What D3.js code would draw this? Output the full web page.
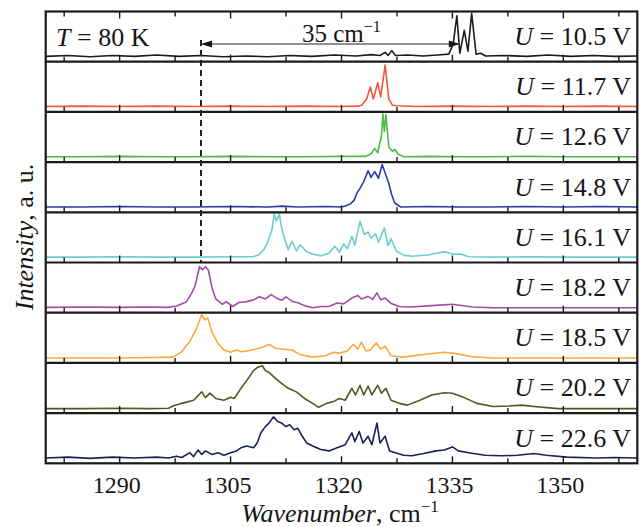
<!DOCTYPE html>
<html><head><meta charset="utf-8">
<script src="https://cdn.jsdelivr.net/npm/d3@7"></script>
<style>body{margin:0;background:#fff}svg{display:block}</style>
</head><body>
<script>
// ---- data ----
const labels = ["10.5", "11.7", "12.6", "14.8", "16.1", "18.2", "18.5", "20.2", "22.6"];
const majorTicks = [1290, 1305, 1320, 1335, 1350];
const minorTicks = [1282.5, 1297.5, 1312.5, 1327.5, 1342.5, 1357.5];
const s105 = [[1280,0.03],[1283,0.05],[1286,0.02],[1289,0.05],[1292,0.03],[1295,0.06],[1298,0.03],[1301,0.05],[1304,0.02],[1307,0.04],[1310,0.02],[1313,0.05],[1316,0.03],[1319,0.06],[1322,0.04],[1324,0.07],[1325.2,0.05],[1325.9,0.12],[1326.3,0.05],[1326.8,0.16],[1327.3,0.05],[1329,0.06],[1331,0.04],[1333,0.06],[1334.5,0.08],[1335.1,0.3],[1335.6,0.95],[1336.0,0.1],[1336.6,0.62],[1337.1,0.15],[1337.6,1.0],[1338.2,0.08],[1338.8,0.1],[1339.5,0.04],[1342,0.05],[1345,0.03],[1348,0.06],[1351,0.03],[1354,0.05],[1357,0.03],[1360,0.04]];
const s117 = [[1280,0.03],[1285,0.04],[1290,0.03],[1295,0.04],[1300,0.03],[1305,0.04],[1310,0.03],[1315,0.04],[1320,0.03],[1322.3,0.04],[1322.8,0.07],[1323.4,0.2],[1323.9,0.47],[1324.3,0.2],[1324.9,0.57],[1325.3,0.25],[1325.9,0.97],[1326.4,0.2],[1326.9,0.06],[1327.5,0.05],[1330,0.03],[1335,0.04],[1340,0.03],[1345,0.04],[1350,0.03],[1355,0.04],[1360,0.03]];
const s126 = [[1280,0.03],[1285,0.03],[1290,0.04],[1295,0.03],[1300,0.03],[1305,0.04],[1310,0.03],[1315,0.03],[1320,0.04],[1323.3,0.04],[1324,0.1],[1324.5,0.22],[1324.9,0.12],[1325.4,0.5],[1325.6,1.0],[1325.8,0.6],[1326.0,0.98],[1326.4,0.25],[1326.9,0.15],[1327.2,0.2],[1327.7,0.08],[1328.5,0.03],[1332,0.04],[1336,0.03],[1340,0.03],[1345,0.04],[1350,0.03],[1355,0.03],[1360,0.03]];
const s148 = [[1280,0.03],[1285,0.03],[1290,0.04],[1295,0.03],[1300,0.03],[1305,0.04],[1310,0.03],[1312,0.05],[1314,0.03],[1318,0.04],[1320,0.03],[1320.6,0.06],[1321.2,0.1],[1321.7,0.18],[1322.1,0.35],[1322.5,0.45],[1323,0.6],[1323.6,0.85],[1324,0.7],[1324.5,0.83],[1325,0.68],[1325.5,0.99],[1325.9,0.8],[1326.4,0.56],[1326.8,0.3],[1327.2,0.12],[1328,0.03],[1332,0.04],[1336,0.03],[1340,0.03],[1345,0.04],[1350,0.03],[1355,0.04],[1360,0.03]];
const s161 = [[1280,0.03],[1285,0.03],[1290,0.04],[1295,0.03],[1300,0.03],[1305,0.04],[1308,0.04],[1308.8,0.08],[1309.5,0.2],[1310,0.36],[1310.6,0.65],[1310.9,1.0],[1311.2,0.85],[1311.6,1.0],[1311.9,0.7],[1312.2,0.5],[1312.8,0.2],[1313.3,0.39],[1313.9,0.17],[1314.4,0.31],[1315.3,0.15],[1316.1,0.1],[1317.2,0.06],[1318.3,0.12],[1319.1,0.28],[1319.7,0.14],[1320.3,0.33],[1320.8,0.22],[1321.4,0.5],[1321.8,0.3],[1322.5,0.84],[1323.1,0.54],[1323.6,0.6],[1324,0.46],[1324.6,0.56],[1325,0.37],[1325.8,0.69],[1326.3,0.29],[1326.7,0.45],[1327.4,0.17],[1328.5,0.07],[1329.6,0.05],[1331.7,0.08],[1332.8,0.12],[1333.9,0.15],[1335,0.1],[1336.1,0.1],[1337.2,0.04],[1340.5,0.03],[1345,0.04],[1350,0.03],[1355,0.03],[1360,0.03]];
const s182 = [[1280,0.03],[1285,0.04],[1290,0.03],[1294,0.04],[1296.5,0.03],[1297.7,0.06],[1299,0.15],[1299.7,0.34],[1300.2,0.52],[1300.8,0.95],[1301.2,0.88],[1301.6,0.95],[1302,0.87],[1302.5,0.47],[1303,0.22],[1303.9,0.1],[1304.4,0.16],[1305.3,0.05],[1306.1,0.14],[1307.2,0.16],[1308.1,0.2],[1308.9,0.27],[1309.7,0.22],[1310.5,0.32],[1311.2,0.24],[1311.9,0.19],[1312.5,0.27],[1313.3,0.17],[1314.2,0.13],[1315,0.07],[1316.1,0.02],[1317.2,0.05],[1318.3,0.05],[1319.4,0.13],[1320.3,0.11],[1321.4,0.24],[1322.2,0.3],[1322.7,0.22],[1323.6,0.28],[1324.2,0.21],[1324.8,0.36],[1325.3,0.2],[1325.9,0.24],[1326.7,0.12],[1327.8,0.05],[1329.4,0.04],[1332.2,0.07],[1335,0.1],[1337.7,0.04],[1340.5,0.02],[1345,0.02],[1350,0.02],[1355,0.02],[1360,0.02]];
const s185 = [[1280,0.02],[1285,0.02],[1290,0.02],[1294,0.03],[1297.2,0.04],[1298.4,0.16],[1299.5,0.4],[1300.3,0.65],[1301.1,1.0],[1301.5,0.88],[1301.9,0.93],[1302.5,0.6],[1303.3,0.35],[1304.1,0.2],[1305,0.15],[1305.8,0.2],[1306.5,0.16],[1307.2,0.18],[1308.3,0.22],[1309.4,0.27],[1310.2,0.33],[1311.1,0.24],[1312.2,0.22],[1313.3,0.2],[1314.4,0.1],[1316.1,0.04],[1317.8,0.07],[1318.9,0.15],[1319.7,0.13],[1320.8,0.18],[1321.6,0.33],[1322.2,0.22],[1322.7,0.38],[1323.3,0.18],[1323.9,0.2],[1324.7,0.36],[1325.3,0.22],[1325.9,0.29],[1326.7,0.07],[1328.3,0.04],[1331.1,0.1],[1333.9,0.15],[1335.5,0.12],[1337.7,0.05],[1340.5,0.02],[1345,0.02],[1350,0.02],[1355,0.02],[1360,0.02]];
const s202 = [[1280,0.01],[1285,0.01],[1290,0.02],[1294,0.01],[1296.6,0.02],[1297.2,0.07],[1298.4,0.13],[1300,0.2],[1301.1,0.39],[1301.6,0.26],[1302.2,0.36],[1303,0.24],[1304.1,0.2],[1305,0.27],[1305.5,0.24],[1306.4,0.47],[1307.2,0.65],[1308.1,0.87],[1308.6,0.94],[1309.3,0.98],[1309.7,0.87],[1310.2,0.83],[1311.1,0.69],[1311.9,0.58],[1312.8,0.47],[1313.9,0.39],[1315,0.24],[1316.1,0.13],[1316.9,0.04],[1318,0.13],[1318.9,0.17],[1319.7,0.24],[1320.5,0.2],[1321.4,0.47],[1321.9,0.32],[1322.5,0.54],[1323,0.32],[1323.6,0.52],[1324.1,0.32],[1324.9,0.54],[1325.4,0.36],[1326,0.47],[1326.7,0.2],[1327.8,0.13],[1328.9,0.09],[1330.6,0.2],[1332.2,0.32],[1333.9,0.37],[1335,0.36],[1336.6,0.26],[1338.3,0.13],[1340.5,0.06],[1342.7,0.07],[1344.4,0.09],[1346,0.06],[1349.3,0.01],[1355,0.01],[1360,0.01]];
const s226 = [[1280,0.03],[1283,0.05],[1286,0.02],[1289,0.05],[1292,0.03],[1295,0.05],[1296.6,0.03],[1297.7,0.07],[1298.4,0.04],[1299.5,0.15],[1300,0.06],[1300.6,0.21],[1301.1,0.11],[1301.6,0.19],[1302.5,0.11],[1303.3,0.15],[1304.1,0.09],[1305,0.15],[1305.8,0.19],[1306.4,0.26],[1307.2,0.3],[1308.1,0.26],[1308.6,0.37],[1309.1,0.6],[1309.7,0.74],[1310.2,0.82],[1310.8,0.96],[1311.4,0.85],[1311.9,0.82],[1312.5,0.74],[1313,0.78],[1313.6,0.67],[1314.1,0.7],[1314.7,0.52],[1315.3,0.37],[1316.1,0.3],[1317.2,0.22],[1318.3,0.19],[1319.4,0.26],[1320.5,0.33],[1321.4,0.6],[1321.8,0.4],[1322.4,0.63],[1322.9,0.37],[1323.6,0.52],[1324.1,0.33],[1324.8,0.82],[1325.2,0.37],[1325.9,0.52],[1326.5,0.19],[1327.3,0.15],[1328.4,0.09],[1329.5,0.08],[1331.1,0.13],[1332.8,0.19],[1333.9,0.21],[1335,0.28],[1335.8,0.19],[1337.2,0.15],[1339.4,0.09],[1341.6,0.08],[1343.8,0.09],[1346,0.13],[1347.7,0.09],[1350.5,0.05],[1354.4,0.03],[1357,0.04],[1360,0.03]];
const spectra = [s105, s117, s126, s148, s161, s182, s185, s202, s226];
const colors = ["#1b1b1b", "#f2573a", "#4fba4a", "#2b3ba6", "#6bcfcf", "#a24ca8", "#fba93a", "#55561c", "#1c2058"];
const dashedAt = 1301;
const arrowFrom = 1301, arrowTo = 1336;

// ---- layout ----
const W = 643, H = 527;
const L = 45.7, R = 637.3, T = 11.5, B = 463.3;
const n = spectra.length;
const ph = (B - T) / n;
const FONT = '"Liberation Serif"';
const svg = d3.select("body").append("svg").attr("width", W).attr("height", H);
const x = d3.scaleLinear().domain([1280, 1360]).range([L, R]);
const ink = "#161616";
function txt(sel) { return sel.append("text").style("font-family", FONT).attr("fill", ink); }

const defs = svg.append("defs");
spectra.forEach((s, i) => {
  const top = T + i * ph, bot = top + ph;
  defs.append("clipPath").attr("id", "c" + i).append("rect")
    .attr("x", L).attr("y", top).attr("width", R - L).attr("height", ph);
  const y = d3.scaleLinear().domain([0, 1]).range([bot - 4, top + 2]);
  const line = d3.line().x(d => x(d[0])).y(d => y(d[1])).curve(d3.curveLinear);
  svg.append("path").datum(s).attr("d", line).attr("fill", "none")
    .attr("stroke", colors[i]).attr("stroke-width", 1.6).attr("stroke-linejoin", "round")
    .attr("clip-path", `url(#c${i})`);
  const g = svg.append("g");
  g.selectAll("line.maj").data(majorTicks).join("line")
    .attr("x1", d => x(d)).attr("x2", d => x(d)).attr("y1", bot).attr("y2", bot - 7)
    .attr("stroke", ink).attr("stroke-width", 1.4);
  g.selectAll("line.min").data(minorTicks).join("line")
    .attr("x1", d => x(d)).attr("x2", d => x(d)).attr("y1", bot).attr("y2", bot - 5)
    .attr("stroke", ink).attr("stroke-width", 1.4);
  const t = txt(svg).attr("x", 631).attr("y", top + 33.5).attr("text-anchor", "end")
    .attr("font-size", 26);
  t.append("tspan").attr("font-style", "italic").text("U");
  t.append("tspan").text(" = " + labels[i] + " V");
});
svg.selectAll("line.tt").data(majorTicks.concat(minorTicks)).join("line")
  .attr("x1", d => x(d)).attr("x2", d => x(d)).attr("y1", T)
  .attr("y2", d => T + (majorTicks.includes(d) ? 7 : 5))
  .attr("stroke", ink).attr("stroke-width", 1.4);
d3.range(1, n).forEach(i => {
  svg.append("line").attr("x1", L).attr("x2", R).attr("y1", T + i * ph).attr("y2", T + i * ph)
    .attr("stroke", "#1a1a1a").attr("stroke-width", 2.2);
});
svg.append("rect").attr("x", L).attr("y", T).attr("width", R - L).attr("height", B - T)
  .attr("fill", "none").attr("stroke", "#1a1a1a").attr("stroke-width", 2.2);

const tt = txt(svg).attr("x", 56).attr("y", 45.5).attr("font-size", 26);
tt.append("tspan").attr("font-style", "italic").text("T");
tt.append("tspan").text(" = 80 K");

svg.append("line").attr("x1", x(dashedAt)).attr("x2", x(dashedAt)).attr("y1", 40).attr("y2", T + 5 * ph)
  .attr("stroke", "#222").attr("stroke-width", 2).attr("stroke-dasharray", "6,4");
const ay = 44;
svg.append("line").attr("x1", x(arrowFrom) + 2).attr("x2", x(arrowTo) - 2).attr("y1", ay).attr("y2", ay)
  .attr("stroke", "#222").attr("stroke-width", 1.2);
svg.append("path").attr("d", `M${x(arrowFrom)},${ay}l11,-3.5l0,7z`).attr("fill", ink);
svg.append("path").attr("d", `M${x(arrowTo)},${ay}l-11,-3.5l0,7z`).attr("fill", ink);
const at = txt(svg).attr("x", 302).attr("y", 42).attr("font-size", 25);
at.append("tspan").text("35 cm");
at.append("tspan").attr("dy", -10).attr("font-size", 16).text("−1");

majorTicks.forEach(v => {
  txt(svg).attr("x", x(v) - 3).attr("y", 493).attr("text-anchor", "middle")
    .attr("font-size", 24).text(v);
});
const xt = txt(svg).attr("x", 340).attr("y", 522).attr("text-anchor", "middle").attr("font-size", 26);
xt.append("tspan").attr("font-style", "italic").text("Wavenumber");
xt.append("tspan").text(", cm");
xt.append("tspan").attr("dy", -10).attr("font-size", 17).text("−1");
const yt = txt(svg).attr("transform", "translate(33,237) rotate(-90)").attr("text-anchor", "middle")
  .attr("font-size", 26);
yt.append("tspan").attr("font-style", "italic").text("Intensity");
yt.append("tspan").text(", a. u.");
</script>
</body></html>
